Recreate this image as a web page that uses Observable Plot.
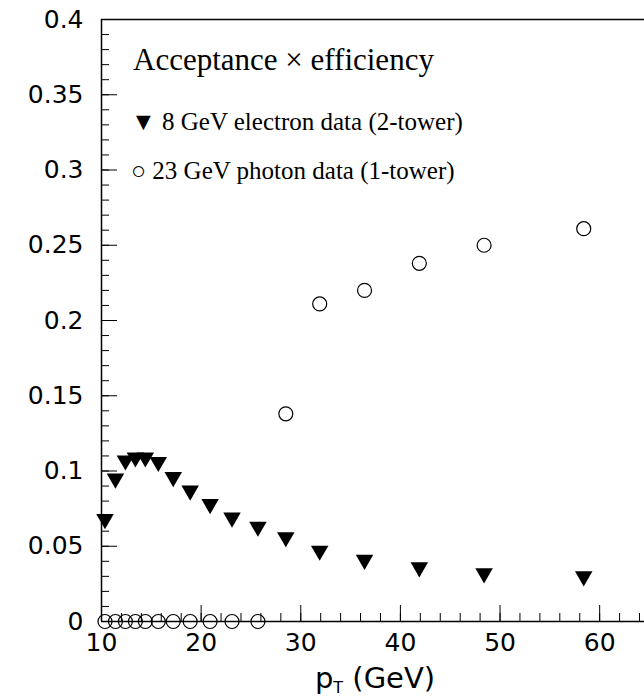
<!DOCTYPE html>
<html><head><meta charset="utf-8">
<script src="https://cdn.jsdelivr.net/npm/d3@7"></script>
<script src="https://cdn.jsdelivr.net/npm/@observablehq/plot@0.6"></script>
<style>
body{margin:0;background:#fff}
#wrap{position:relative;width:644px;height:696px;overflow:hidden}
.leg{position:absolute;font-family:"Liberation Serif",serif;color:#000;white-space:nowrap;line-height:1}
</style></head>
<body><div id="wrap"><div id="chart"></div>
<div class="leg" style="left:133px;top:44px;font-size:31px">Acceptance × efficiency</div>
<div class="leg" style="left:131px;top:109px;font-size:25px">▼ 8 GeV electron data (2-tower)</div>
<div class="leg" style="left:131px;top:158px;font-size:25px">○ 23 GeV photon data (1-tower)</div>
</div>
<script>
// electron data (2-tower)
let e_pt  = [10.35, 11.4, 12.4, 13.4, 14.4, 15.7, 17.2, 18.9, 20.9, 23.1, 25.7, 28.5, 31.9, 36.4, 41.9, 48.4, 58.4];
let e_eff = [0.068, 0.095, 0.107, 0.109, 0.109, 0.106, 0.096, 0.087, 0.078, 0.069, 0.063, 0.056, 0.047, 0.041, 0.036, 0.032, 0.030];
// photon data (1-tower)
let g_pt  = [10.35, 11.4, 12.4, 13.4, 14.4, 15.7, 17.2, 18.9, 20.9, 23.1, 25.7, 28.5, 31.9, 36.4, 41.9, 48.4, 58.4];
let g_eff = [0, 0, 0, 0, 0, 0, 0, 0, 0, 0, 0, 0.138, 0.211, 0.220, 0.238, 0.250, 0.261];

let x_major = [10, 20, 30, 40, 50, 60];
let y_major = [0, 0.05, 0.1, 0.15, 0.2, 0.25, 0.3, 0.35, 0.4];

let electrons = e_pt.map((d, i) => ({pt: d, eff: e_eff[i]}));
let photons = g_pt.map((d, i) => ({pt: d, eff: g_eff[i]}));

const font = "DejaVu Sans, sans-serif";

let plot = Plot.plot({
    width: 644,
    height: 696,
    marginLeft: 101,
    marginTop: 19,
    marginRight: 0,
    marginBottom: 75,
    style: {fontFamily: font, fontSize: "24px", color: "#000", overflow: "visible"},
    x: {domain: [10, 64.5]},
    y: {domain: [0, 0.4]},
    marks: [
        Plot.ruleY([0.4], {stroke: "#000", strokeWidth: 1.5}),
        Plot.ruleY([0], {stroke: "#000", strokeWidth: 1.5}),
        Plot.ruleX([10], {stroke: "#000", strokeWidth: 1.5}),
        // minor ticks
        Plot.axisX(d3.range(10, 64.6, 2), {tickSize: -8, text: null, label: null, anchor: "bottom"}),
        Plot.axisY(d3.range(0, 0.401, 0.01), {tickSize: -8, text: null, label: null, anchor: "left"}),
        // major ticks
        Plot.axisX(x_major, {tickSize: -16, tickPadding: 28, anchor: "bottom", label: null, fontSize: 25}),
        Plot.axisY(y_major, {tickSize: -16, tickPadding: 34, anchor: "left", label: null, fontSize: 25,
            tickFormat: d => d === 0 ? "0" : String(+d.toFixed(2))}),
        Plot.dot(photons, {x: "pt", y: "eff", r: 7, stroke: "#000", strokeWidth: 1.2, fill: "none"}),
        Plot.dot(electrons, {x: "pt", y: "eff", symbol: "triangle", r: 6.5, fill: "#000", rotate: 180})
    ]
});
document.querySelector("#chart").append(plot);

// x axis title with subscript
let svg = d3.select(plot);
let t = svg.append("text").attr("x", 375).attr("y", 688).attr("text-anchor", "middle")
    .style("font-family", font).style("font-size", "29px");
t.append("tspan").text("p");
t.append("tspan").attr("dy", 5).style("font-size", "16px").text("T");
t.append("tspan").attr("dy", -5).text(" (GeV)");
</script>
</body></html>
